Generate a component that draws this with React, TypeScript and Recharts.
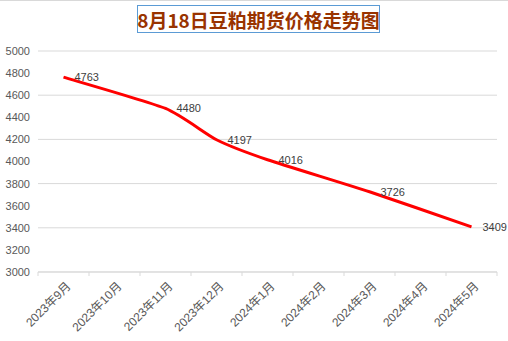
import { LineChart, Line, XAxis, YAxis, CartesianGrid, LabelList } from 'recharts';

const months = [
  '2023年9月', '2023年10月', '2023年11月', '2023年12月', '2024年1月',
  '2024年2月', '2024年3月', '2024年4月', '2024年5月',
];
const prices: (number | null)[] = [4763, null, 4480, 4197, 4016, null, 3726, null, 3409];
const yTicks = [3000, 3200, 3400, 3600, 3800, 4000, 4200, 4400, 4600, 4800, 5000];

const data = months.map((m, i) => ({ month: m, price: prices[i] }));

const CHART_W = 508;
const CHART_H = 341;
const MARGIN = { top: 51, right: 11, bottom: 0, left: 0 };
const Y_W = 38;
const X_H = 69;
const band = (CHART_W - MARGIN.left - MARGIN.right - Y_W) / months.length;
const font = '"Liberation Sans", "Noto Sans CJK SC", sans-serif';

// Excel-like smoothed line: Catmull-Rom style bezier with reduced tension
const excelSmooth = (context: any) => {
  let pts: number[][] = [];
  return {
    areaStart() {},
    areaEnd() {},
    lineStart() { pts = []; },
    point(x: number, y: number) { pts.push([+x, +y]); },
    lineEnd() {
      if (!pts.length) return;
      const k = 0.6 / 6;
      context.moveTo(pts[0][0], pts[0][1]);
      for (let i = 0; i < pts.length - 1; i++) {
        const p0 = pts[i - 1] || pts[i];
        const p1 = pts[i];
        const p2 = pts[i + 1];
        const p3 = pts[i + 2] || p2;
        context.bezierCurveTo(
          p1[0] + (p2[0] - p0[0]) * k, p1[1] + (p2[1] - p0[1]) * k,
          p2[0] - (p3[0] - p1[0]) * k, p2[1] - (p3[1] - p1[1]) * k,
          p2[0], p2[1],
        );
      }
    },
  };
};

function MonthTick(props: any) {
  const { x, y, payload, index } = props;
  const last = index === months.length - 1;
  return (
    <g>
      <line x1={x - band / 2} x2={x - band / 2} y1={y} y2={y + 4} stroke="#D9D9D9" />
      {last && <line x1={x + band / 2} x2={x + band / 2} y1={y} y2={y + 4} stroke="#D9D9D9" />}
      <text
        transform={`translate(${x + 5},${y + 12}) rotate(-45)`}
        textAnchor="end"
        dy="0.35em"
        fontSize={12}
        fill="#595959"
        fontFamily={font}
      >
        {payload.value}
      </text>
    </g>
  );
}

function PriceLabel(props: any) {
  const { x, y, value } = props;
  if (value == null) return null;
  return (
    <text x={x + 11} y={y} dy="0.35em" fontSize={11} fill="#404040" fontFamily={font}>
      {value}
    </text>
  );
}

export default function App() {
  return (
    <div style={{ position: 'absolute', left: 0, top: 0, width: CHART_W, height: CHART_H, background: '#fff', borderTop: '1px solid #D9D9D9', boxSizing: 'border-box' }}>
      <div
        style={{
          position: 'absolute', left: 137, top: 4, width: 243, height: 28,
          border: '1px solid #5B9BD5', boxSizing: 'border-box',
          display: 'flex', alignItems: 'center', justifyContent: 'center',
          fontFamily: '"Noto Sans CJK SC", sans-serif', fontWeight: 'bold',
          fontSize: 19, color: '#993300', whiteSpace: 'nowrap',
        }}
      >
        8月18日豆粕期货价格走势图
      </div>
      <div style={{ position: 'absolute', left: 0, top: -1 }}>
        <LineChart width={CHART_W} height={CHART_H} data={data} margin={MARGIN}>
          <CartesianGrid vertical={false} stroke="#D9D9D9" />
          <XAxis
            dataKey="month"
            interval={0}
            height={X_H}
            stroke="#D9D9D9"
            padding={{ left: band / 2, right: band / 2 }}
            tickLine={false}
            tickSize={0}
            tickMargin={0}
            tick={<MonthTick />}
          />
          <YAxis
            domain={[3000, 5000]}
            ticks={yTicks}
            width={Y_W}
            axisLine={false}
            tickLine={false}
            tick={{ fontSize: 11, fill: '#595959', fontFamily: font }}
          />
          <Line
            type={excelSmooth as any}
            dataKey="price"
            stroke="#FF0000"
            strokeWidth={3}
            dot={false}
            connectNulls
            isAnimationActive={false}
          >
            <LabelList dataKey="price" content={<PriceLabel />} />
          </Line>
        </LineChart>
      </div>
    </div>
  );
}
